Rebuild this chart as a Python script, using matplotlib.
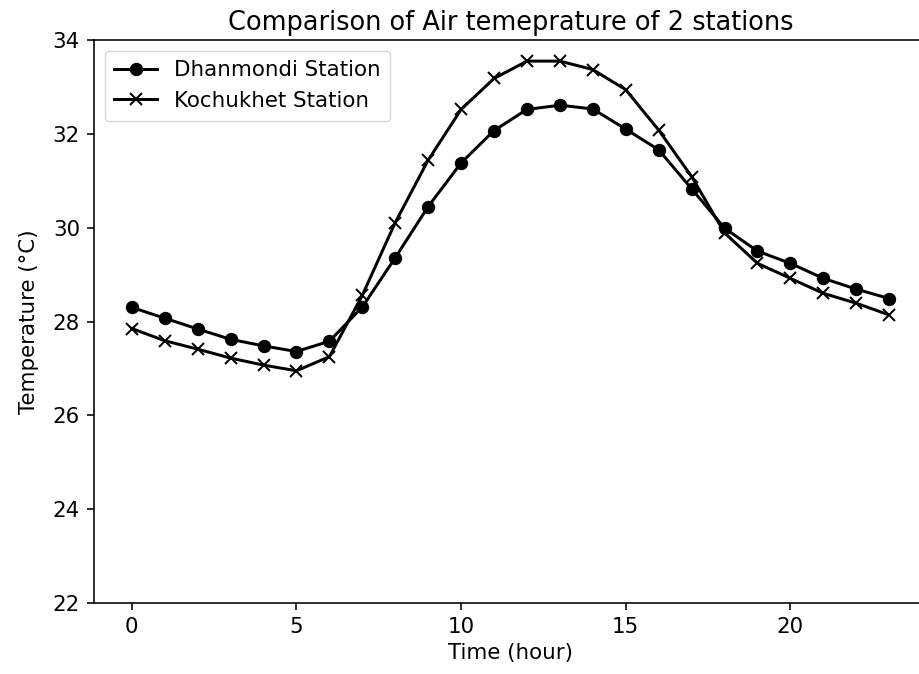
import numpy as np
import matplotlib
matplotlib.use("Agg")
import matplotlib.pyplot as plt

# hourly air temperature (°C)
hours = list(range(24))
dhanmondi = [28.30, 28.07, 27.84, 27.62, 27.48, 27.36, 27.58, 28.31, 29.36, 30.45,
             31.38, 32.07, 32.52, 32.61, 32.53, 32.10, 31.66, 30.83, 29.99, 29.50,
             29.24, 28.92, 28.69, 28.49]
kochukhet = [27.85, 27.59, 27.41, 27.22, 27.07, 26.95, 27.25, 28.56, 30.11, 31.44,
             32.52, 33.18, 33.55, 33.55, 33.37, 32.94, 32.08, 31.09, 29.89, 29.24,
             28.92, 28.60, 28.39, 28.14]

s = 1.436  # scale from a default 640x480 figure
fs = 1.07 * s  # text a touch bigger (reference is stretched sideways)

fig = plt.figure(figsize=(9.19, 6.74), dpi=100)
ax = fig.add_axes([94 / 919, 71 / 674, 833 / 919, 563 / 674])

ax.plot(hours, dhanmondi, color='black', marker='o', lw=1.5 * s, ms=6 * s,
        label='Dhanmondi Station')
ax.plot(hours, kochukhet, color='black', marker='x', lw=1.5 * s, ms=6 * s,
        mew=1.0 * s, label='Kochukhet Station')

ax.set_ylim(22, 34)
ax.set_title('Comparison of Air temeprature of 2 stations', fontsize=12 * fs, pad=5 * s)
ax.set_xlabel('Time (hour)', fontsize=10 * fs, labelpad=3 * s)
ax.set_ylabel('Temperature (°C)', fontsize=10 * fs, labelpad=7 * s)
ax.tick_params(labelsize=10 * fs, width=0.8 * s, length=3.5 * s, pad=3.5 * s)
for sp in ax.spines.values():
    sp.set_linewidth(0.8 * s)

ax.legend(loc='upper left', fontsize=10 * fs, framealpha=0.8, borderpad=0.45)

fig.savefig('out.png', dpi=100)
